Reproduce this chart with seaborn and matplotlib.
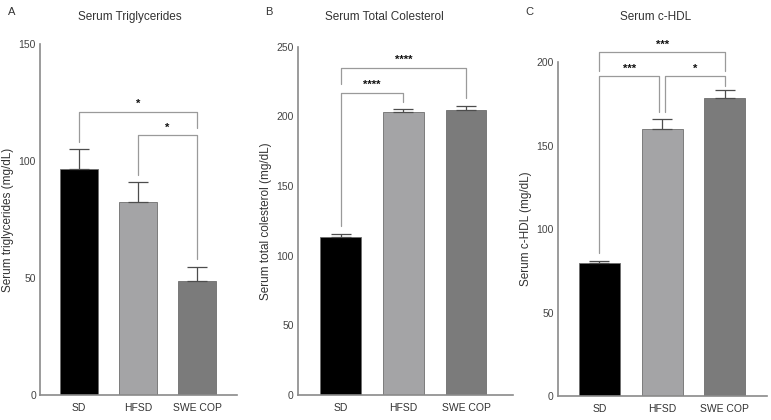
import matplotlib
matplotlib.use('Agg')
import matplotlib.pyplot as plt
import seaborn as sns

sns.set_style('white')
plt.rcParams['font.family'] = ['Liberation Sans', 'DejaVu Sans']

groups = ['SD', 'HFSD', 'SWE COP']
bar_colors = ['#000000', '#a4a4a6', '#7b7b7b']

# mean and upper error (mg/dL)
tg_mean = [96.5, 82.5, 48.7]
tg_err = [8.7, 8.3, 6.0]
tc_mean = [113.5, 203.3, 204.7]
tc_err = [2.2, 2.2, 3.0]
hdl_mean = [79.5, 160.0, 178.5]
hdl_err = [1.3, 6.0, 5.0]

# significance brackets: x1, x2, bar height, left leg end, right leg end, stars
tg_sig = [(0, 2, 121, 108, 114, '*'), (1, 2, 111, 94, 58, '*')]
tc_sig = [(0, 2, 235, 223, 213, '****'), (0, 1, 217, 121, 210.5, '****')]
hdl_sig = [(0, 2, 206, 195, 195, '***'), (0, 0.95, 191.6, 85.6, 170, '***'),
           (1.05, 2, 191.6, 170, 186, '*')]

panels = [
    ('A', 'Serum Triglycerides', 'Serum triglycerides (mg/dL)', tg_mean, tg_err, tg_sig,
     [0.052, 0.0595, 0.255, 0.836], 150, 50, (-0.66, 2.67)),
    ('B', 'Serum Total Colesterol', 'Serum total colesterol (mg/dL)', tc_mean, tc_err, tc_sig,
     [0.3865, 0.0595, 0.279, 0.829], 250, 50, (-0.68, 2.75)),
    ('C', 'Serum c-HDL', 'Serum c-HDL (mg/dL)', hdl_mean, hdl_err, hdl_sig,
     [0.7237, 0.057, 0.271, 0.795], 200, 50, (-0.66, 2.67)),
]
letter_x = [8 / 771, 265 / 771, 525 / 771]
title_x = [130 / 771, 384 / 771, 656 / 771]

fig = plt.figure(figsize=(7.71, 4.2), dpi=100)
axis_grey = '#8a8a8a'

for i, (letter, title, ylabel, means, errs, sig, rect, ymax, step, xlim) in enumerate(panels):
    ax = fig.add_axes(rect)
    sns.barplot(x=groups, y=means, hue=groups, palette=bar_colors, width=0.65,
                legend=False, ax=ax, edgecolor='#6e6e6e', linewidth=0.6)
    ax.errorbar(range(3), means, yerr=[[0] * 3, errs], fmt='none', ecolor='#4d4d4d',
                elinewidth=0.9, capsize=7, capthick=0.9)
    for x1, x2, h, l1, l2, s in sig:
        ax.plot([x1, x1, x2, x2], [l1, h, h, l2], color='#9a9a9a', lw=0.9, clip_on=False)
        ax.annotate(s, ((x1 + x2) / 2, h), xytext=(0, 2), textcoords='offset points',
                    ha='center', va='bottom', fontsize=8, fontweight='bold', color='#111111',
                    annotation_clip=False)
    ax.set_ylim(0, ymax)
    ax.set_xlim(*xlim)
    ax.set_yticks(range(0, ymax + 1, step))
    ax.set_ylabel(ylabel, fontsize=8.5, color='#333333', labelpad=3)
    sns.despine(ax=ax)
    for sp in ['left', 'bottom']:
        ax.spines[sp].set_color(axis_grey)
        ax.spines[sp].set_linewidth(1.2)
    ax.tick_params(axis='y', labelsize=7.5, colors='#444444', length=2, pad=1, color=axis_grey)
    ax.tick_params(axis='x', labelsize=7.5, colors='#333333', length=0, pad=6)
    fig.text(letter_x[i], 1 - 12 / 420, letter, fontsize=8, color='#333333', va='center')
    fig.text(title_x[i], 1 - 17 / 420, title, fontsize=8.5, color='#333333',
             ha='center', va='center')

fig.savefig('out.png', dpi=100)
